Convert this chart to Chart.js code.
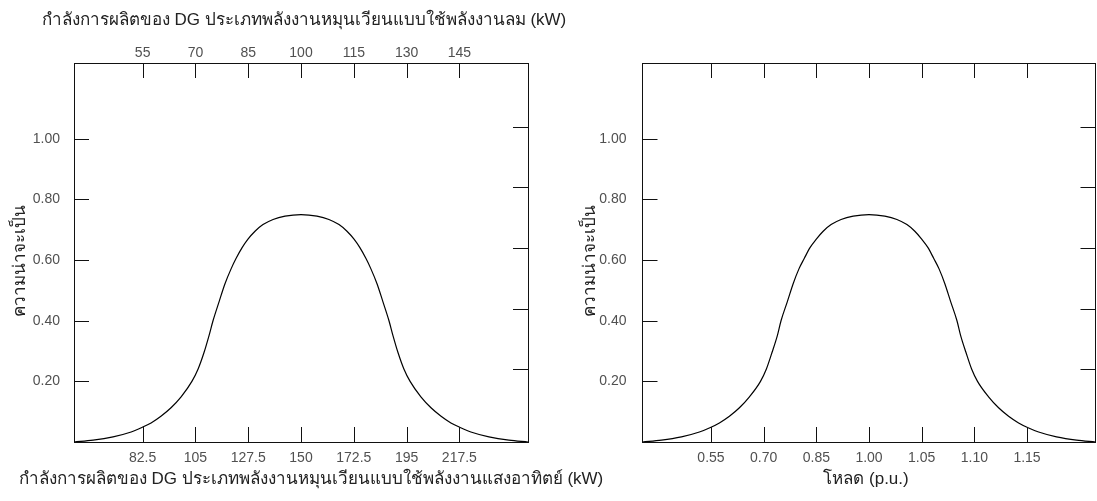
<!DOCTYPE html>
<html>
<head>
<meta charset="utf-8">
<script src="https://cdn.jsdelivr.net/npm/chart.js@4.4.1/dist/chart.umd.min.js"></script>
<style>
  html, body { margin: 0; padding: 0; background: #fff; width: 1097px; height: 501px; overflow: hidden; }
  .panel { position: absolute; top: 0; height: 501px; }
  #p1 { left: 0; width: 640px; }
  #p2 { left: 560px; width: 537px; }
</style>
</head>
<body>
<div class="panel" id="p1"><canvas id="c1"></canvas></div>
<div class="panel" id="p2"><canvas id="c2"></canvas></div>
<script>
// Probability curve (same shape in both panels)
const probability = [0, 0.006, 0.017, 0.033, 0.048, 0.063, 0.085, 0.113, 0.149, 0.200, 0.240, 0.296, 0.351, 0.400,
                     0.463, 0.522, 0.571, 0.605, 0.641, 0.669, 0.695, 0.717, 0.734, 0.745, 0.750,
                     0.745, 0.734, 0.717, 0.695, 0.669, 0.641, 0.605, 0.571, 0.522, 0.463,
                     0.400, 0.351, 0.296, 0.240, 0.200, 0.149, 0.113, 0.085, 0.063, 0.048, 0.033, 0.017, 0.006, 0];

// Left panel: curve positions along the solar axis (kW)
const solarKW = [53.25, 61.4, 69.9, 77.6, 82.2, 86.1, 90.3, 94.6, 98.9, 103.5, 106.1, 108.7, 110.8, 112.5,
                 115.1, 117.6, 120.2, 122.3, 124.9, 127.4, 130.4, 133.8, 138.1, 143.2, 150,
                 156.8, 161.9, 166.2, 169.6, 172.6, 175.1, 177.7, 179.8, 182.4, 184.9,
                 187.5, 189.2, 191.3, 193.9, 196.5, 201.1, 205.4, 209.7, 213.9, 217.8, 222.4, 230.1, 238.6, 246.75];

// Right panel: curve positions along the load axis (tick slot units, 0..6)
const loadSlot = [-1.3, -0.94, -0.56, -0.22, -0.01, 0.16, 0.35, 0.54, 0.73, 0.94, 1.05, 1.16, 1.26, 1.33,
                  1.45, 1.56, 1.67, 1.77, 1.88, 2.00, 2.13, 2.28, 2.47, 2.70, 3,
                  3.30, 3.53, 3.72, 3.87, 4.00, 4.12, 4.23, 4.33, 4.44, 4.55,
                  4.67, 4.74, 4.84, 4.95, 5.06, 5.27, 5.46, 5.65, 5.84, 6.01, 6.22, 6.56, 6.94, 7.3];

// Tick values and labels
const solarTicks = [82.5, 105, 127.5, 150, 172.5, 195, 217.5];
const solarLabels = ['82.5', '105', '127.5', '150', '172.5', '195', '217.5'];
const windTicks = [55, 70, 85, 100, 115, 130, 145];
const windLabels = ['55', '70', '85', '100', '115', '130', '145'];
const loadTicks = [0, 1, 2, 3, 4, 5, 6];
const loadLabels = ['0.55', '0.70', '0.85', '1.00', '1.05', '1.10', '1.15'];
const probTicks = [0.2, 0.4, 0.6, 0.8, 1.0];
const probLabels = ['0.20', '0.40', '0.60', '0.80', '1.00'];
const probTicksRight = [0.24, 0.44, 0.64, 0.84, 1.04];

const solarTitle = 'กำลังการผลิตของ DG ประเภทพลังงานหมุนเวียนแบบใช้พลังงานแสงอาทิตย์ (kW)';
const windTitle = 'กำลังการผลิตของ DG ประเภทพลังงานหมุนเวียนแบบใช้พลังงานลม (kW)';
const loadTitle = 'โหลด (p.u.)';
const probTitle = 'ความน่าจะเป็น';

const FONT = "'Liberation Sans', Arial, 'DejaVu Sans', sans-serif";
const TICK_FONT = { family: FONT, size: 14 };
const TITLE_SIZE = 17;

// Tick marks drawn from each border inward into the plot
const innerTicks = {
  id: 'innerTicks',
  afterDraw(chart) {
    const { ctx, chartArea: a } = chart;
    const len = 15;
    ctx.save();
    ctx.strokeStyle = '#111';
    ctx.lineWidth = 1;
    for (const s of Object.values(chart.scales)) {
      for (const t of s.ticks) {
        const p = Math.round(s.getPixelForValue(t.value)) + 0.5;
        ctx.beginPath();
        if (s.position === 'bottom') { ctx.moveTo(p, a.bottom); ctx.lineTo(p, a.bottom - len); }
        else if (s.position === 'top') { ctx.moveTo(p, a.top); ctx.lineTo(p, a.top + len); }
        else if (s.position === 'left') { ctx.moveTo(a.left, p); ctx.lineTo(a.left + len, p); }
        else { ctx.moveTo(a.right, p); ctx.lineTo(a.right - len, p); }
        ctx.stroke();
      }
    }
    ctx.restore();
  }
};

// Axis captions; the long ones are allowed to run wider than the plot
const axisCaptions = {
  id: 'axisCaptions',
  afterDraw(chart, args, opts) {
    const { ctx, chartArea: a } = chart;
    const cx = (a.left + a.right) / 2;
    ctx.save();
    ctx.fillStyle = '#222';
    ctx.font = `${TITLE_SIZE}px ${FONT}`;
    ctx.textAlign = 'center';
    ctx.textBaseline = 'middle';
    if (opts.top) ctx.fillText(opts.top, cx + opts.topShift, 20);
    if (opts.bottom) ctx.fillText(opts.bottom, cx + opts.bottomShift, chart.height - 22);
    if (opts.side) {
      ctx.translate(opts.sideX, (a.top + a.bottom) / 2 + 8);
      ctx.rotate(-Math.PI / 2);
      ctx.fillText(opts.side, 0, 0);
    }
    ctx.restore();
  }
};

const noGrid = { drawOnChartArea: false, drawTicks: false };
const frame = { display: true, color: '#111', width: 1 };

function fixTicks(values) {
  return s => { s.ticks = values.map(v => ({ value: v })); };
}

function makeChart(id, cfg) {
  return new Chart(document.getElementById(id), {
    type: 'line',
    data: {
      datasets: [{
        data: cfg.xs.map((x, i) => ({ x: x, y: probability[i] })),
        borderColor: '#000',
        borderWidth: 1.2,
        pointRadius: 0,
        fill: false,
        cubicInterpolationMode: 'monotone',
        xAxisID: 'x',
        yAxisID: 'y'
      }]
    },
    options: {
      responsive: true,
      maintainAspectRatio: false,
      animation: false,
      layout: { padding: 0 },
      plugins: {
        legend: { display: false },
        tooltip: { enabled: false },
        axisCaptions: {
          top: cfg.topTitle, topShift: 3,
          bottom: cfg.bottomTitle, bottomShift: cfg.bottomShift,
          side: probTitle, sideX: cfg.sideX
        }
      },
      scales: {
        x: {
          type: 'linear', position: 'bottom', min: cfg.xMin, max: cfg.xMax,
          afterBuildTicks: fixTicks(cfg.bottomTicks),
          afterFit: s => { s.height = 59; },
          grid: noGrid, border: frame,
          ticks: { color: '#505050', font: TICK_FONT, padding: 8, maxRotation: 0, autoSkip: false,
                   callback: (v, i) => cfg.bottomLabels[i] }
        },
        x2: {
          type: 'linear', position: 'top', min: cfg.topMin, max: cfg.topMax,
          afterBuildTicks: fixTicks(cfg.topTicks),
          afterFit: s => { s.height = 63; },
          grid: noGrid, border: frame,
          ticks: { display: !!cfg.topLabels, color: '#505050', font: TICK_FONT, padding: 1, maxRotation: 0, autoSkip: false,
                   callback: (v, i) => cfg.topLabels ? cfg.topLabels[i] : '' }
        },
        y: {
          type: 'linear', position: 'left', min: 0, max: 1.25,
          afterBuildTicks: fixTicks(probTicks),
          afterFit: s => { s.width = cfg.leftWidth; },
          grid: noGrid, border: frame,
          ticks: { color: '#505050', font: TICK_FONT, padding: cfg.leftPad, callback: (v, i) => probLabels[i] }
        },
        y2: {
          type: 'linear', position: 'right', min: 0, max: 1.25,
          afterBuildTicks: fixTicks(probTicksRight),
          afterFit: s => { s.width = cfg.rightWidth; },
          grid: noGrid, border: frame,
          ticks: { display: false }
        }
      }
    },
    plugins: [innerTicks, axisCaptions]
  });
}

makeChart('c1', {
  xs: solarKW,
  xMin: 53.25, xMax: 246.75, bottomTicks: solarTicks, bottomLabels: solarLabels, bottomTitle: solarTitle, bottomShift: 10,
  topMin: 35.5, topMax: 164.5, topTicks: windTicks, topLabels: windLabels, topTitle: windTitle,
  leftWidth: 74, rightWidth: 112, leftPad: 14, sideX: 20
});

makeChart('c2', {
  xs: loadSlot,
  xMin: -1.3, xMax: 7.3, bottomTicks: loadTicks, bottomLabels: loadLabels, bottomTitle: loadTitle, bottomShift: -3,
  topMin: -1.3, topMax: 7.3, topTicks: loadTicks, topLabels: null, topTitle: null,
  leftWidth: 82.5, rightWidth: 1.5, leftPad: 16, sideX: 30
});
</script>
</body>
</html>
